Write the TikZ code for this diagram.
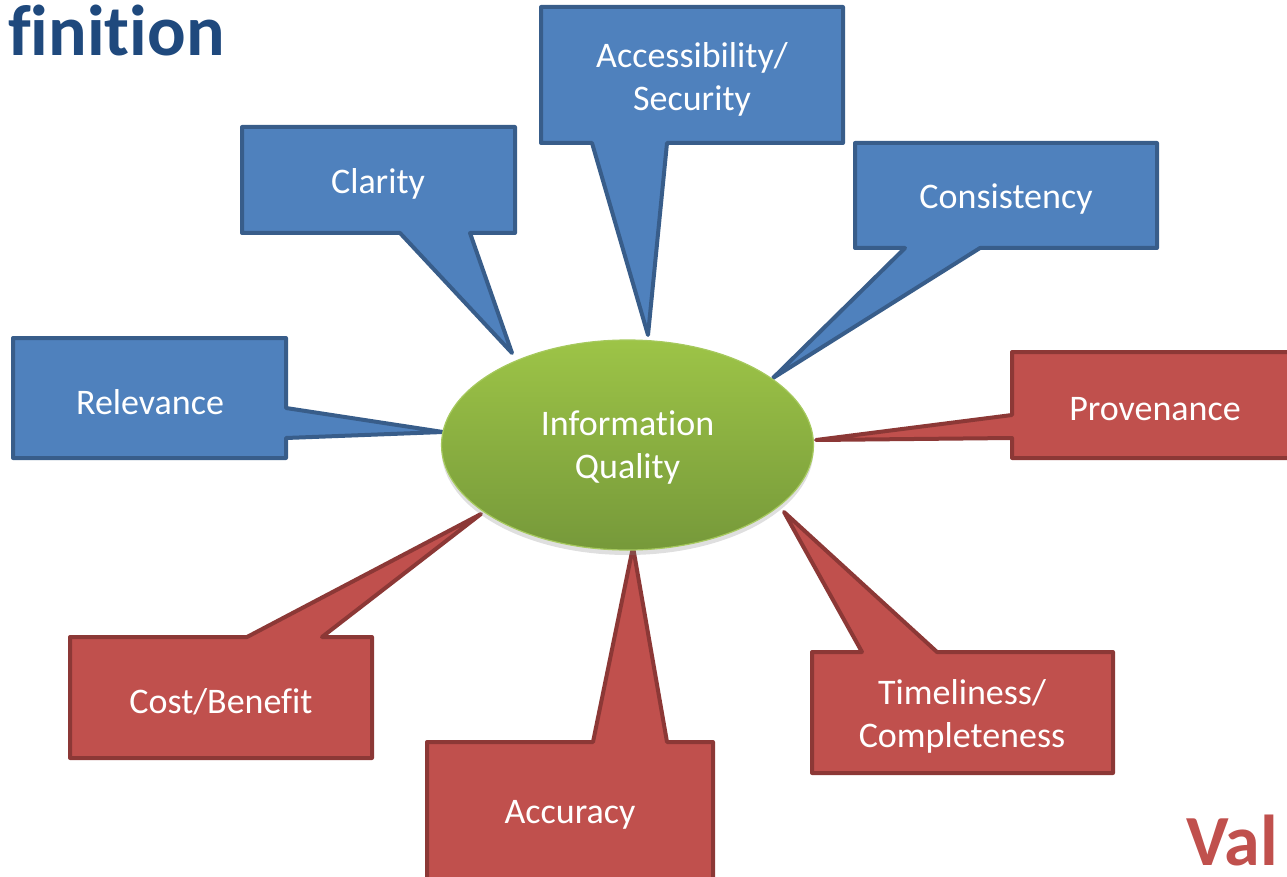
\documentclass[tikz,border=0pt]{standalone}
\usepackage{fontspec}
\setmainfont{Carlito}[Ligatures={NoCommon,NoRare}]
\usetikzlibrary{shapes.geometric,shadows}
\definecolor{bluefill}{HTML}{4F81BD}
\definecolor{blueline}{HTML}{385D8A}
\definecolor{redfill}{HTML}{C0504D}
\definecolor{redline}{HTML}{8C3836}
\definecolor{greentop}{HTML}{9DC447}
\definecolor{greenbot}{HTML}{76993A}
\definecolor{greenline}{HTML}{A6C95E}
\definecolor{titleblue}{HTML}{1F497D}
\tikzset{
  bluecall/.style={fill=bluefill, draw=blueline, line width=4pt, line join=round},
  redcall/.style={fill=redfill, draw=redline, line width=4pt, line join=round},
  lbl/.style={text=white, align=center, font=\fontsize{36}{43}\selectfont, inner sep=0pt, yshift=-3pt},
  hub/.style={ellipse, minimum width=372pt, minimum height=210pt, top color=greentop, bottom color=greenbot, draw=greenline, line width=1.2pt, text=white, align=center, font=\fontsize{36}{43}\selectfont, drop shadow={opacity=0.25, shadow xshift=0pt, shadow yshift=-5pt}},
  bigtitle/.style={font=\fontsize{72}{80}\selectfont\bfseries, inner sep=0pt}
}
\begin{document}
\begin{tikzpicture}[x=1pt,y=-1pt]
\useasboundingbox (0,0) rectangle (1287,877);
% title fragments
\node[bigtitle, text=titleblue, anchor=base east] (title) at (225,56) {finition};
\node[bigtitle, text=redfill, anchor=base west] (val) at (1186,865) {Val};
% blue callouts
\draw[bluecall] (242,127) -- (515,127) -- (515,233) -- (470,233) -- (512,353) -- (400,233) -- (242,233) -- cycle;
\draw[bluecall] (541,7) -- (843,7) -- (843,143) -- (667,143) -- (648,335) -- (592,143) -- (541,143) -- cycle;
\draw[bluecall] (855,143) -- (1157,143) -- (1157,248) -- (980,248) -- (773,378) -- (905,248) -- (855,248) -- cycle;
\draw[bluecall] (13,338) -- (286,338) -- (286,408) -- (443,432) -- (286,438) -- (286,458) -- (13,458) -- cycle;
% red callouts
\draw[redcall] (1012,352) -- (1300,352) -- (1300,458) -- (1012,458) -- (1012,438) -- (816,440) -- (1012,415) -- cycle;
\draw[redcall] (70,637) -- (247,637) -- (481,514) -- (322,637) -- (372,637) -- (372,758) -- (70,758) -- cycle;
\draw[redcall] (427,742) -- (593,742) -- (633,547) -- (667,742) -- (713,742) -- (713,885) -- (427,885) -- cycle;
\draw[redcall] (812,652) -- (862,652) -- (784,512) -- (937,652) -- (1113,652) -- (1113,773) -- (812,773) -- cycle;
% labels
\node[lbl] (clarity) at (378,181) {Clarity};
\node[lbl] (access) at (692,76) {Accessibility/\\Security};
\node[lbl] (consist) at (1006,196) {Consistency};
\node[lbl] (relev) at (150,399) {Relevance};
\node[lbl] (prov) at (1155,406) {Provenance};
\node[lbl] (cost) at (221,699) {Cost/Benefit};
\node[lbl] (accur) at (570,812) {Accuracy};
\node[lbl] (timely) at (962,713) {Timeliness/\\Completeness};
% hub
\node[hub, text depth=0pt] (iq) at (627.5,445) {Information\\Quality};
\end{tikzpicture}
\end{document}
